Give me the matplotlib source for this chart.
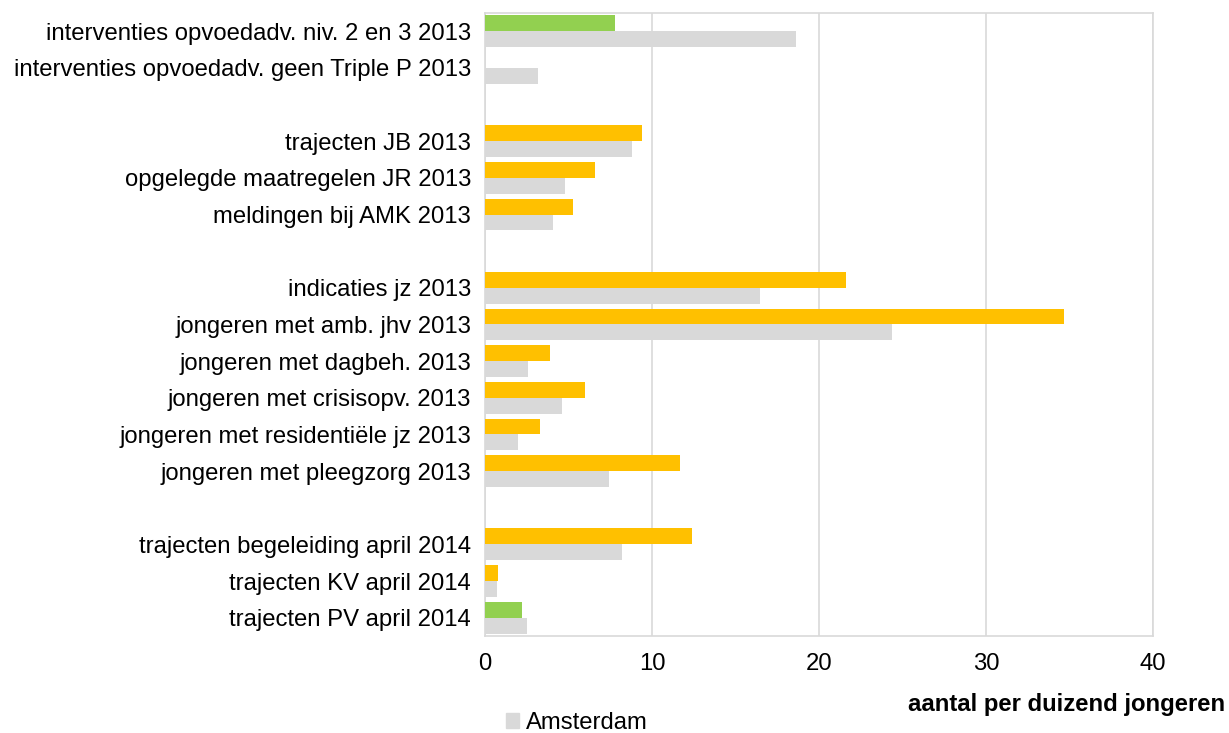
import numpy as np
import matplotlib.pyplot as plt
from matplotlib.patches import Patch

plt.rcParams['font.family'] = ['Liberation Sans', 'DejaVu Sans']

# categories top to bottom; empty strings are spacer rows
labels = [
    "interventies opvoedadv. niv. 2 en 3 2013",
    "interventies opvoedadv. geen Triple P 2013",
    "",
    "trajecten JB 2013",
    "opgelegde maatregelen JR 2013",
    "meldingen bij AMK 2013",
    "",
    "indicaties jz 2013",
    "jongeren met amb. jhv 2013",
    "jongeren met dagbeh. 2013",
    "jongeren met crisisopv. 2013",
    "jongeren met residentiële jz 2013",
    "jongeren met pleegzorg 2013",
    "",
    "trajecten begeleiding april 2014",
    "trajecten KV april 2014",
    "trajecten PV april 2014",
]
# region values (nan = no bar)
region = [7.8, np.nan, np.nan, 9.4, 6.6, 5.3, np.nan, 21.6, 34.7, 3.9, 6.0, 3.3, 11.7,
          np.nan, 12.4, 0.8, 2.2]
region_colors = ["#92D050", "#92D050", "#FFC000", "#FFC000", "#FFC000", "#FFC000", "#FFC000",
                 "#FFC000", "#FFC000", "#FFC000", "#FFC000", "#FFC000", "#FFC000",
                 "#FFC000", "#FFC000", "#FFC000", "#92D050"]
amsterdam = [18.6, 3.2, np.nan, 8.8, 4.8, 4.1, np.nan, 16.5, 24.4, 2.6, 4.6, 2.0, 7.4,
             np.nan, 8.2, 0.7, 2.5]

fs = 17.2

fig = plt.figure(figsize=(12.29, 7.33), dpi=100)
ax = fig.add_axes([0.3946, 0.1323, 0.5435, 0.85])

y = np.arange(len(labels))
h = 0.435
ax.barh(y - h / 2, np.nan_to_num(region), height=h, color=region_colors, zorder=3)
ax.barh(y + h / 2, np.nan_to_num(amsterdam), height=h, color="#D9D9D9", zorder=3)

ax.set_ylim(len(labels) - 0.5, -0.5)
ax.set_yticks(y)
ax.set_yticklabels(labels, fontsize=fs)
ax.set_xlim(0, 40)
ax.set_xticks([0, 10, 20, 30, 40])
ax.tick_params(axis='x', labelsize=fs, length=0, pad=12)
ax.tick_params(axis='y', length=0, pad=10)
ax.grid(axis='x', color="#D9D9D9", linewidth=1.2, zorder=0)
for s in ax.spines.values():
    s.set_color("#D9D9D9")
    s.set_linewidth(1.2)

fig.text(1225 / 1229, 1 - 705 / 733, "aantal per duizend jongeren", ha='right', va='center',
         fontsize=fs, fontweight='bold')

fig.legend(handles=[Patch(color="#D9D9D9", label="Amsterdam")], loc='center left',
           bbox_to_anchor=(0.404, 1 - 723 / 733), frameon=False, fontsize=fs,
           handlelength=0.55, handleheight=0.55, handletextpad=0.3, borderaxespad=0)

fig.savefig("out.png", dpi=100)
